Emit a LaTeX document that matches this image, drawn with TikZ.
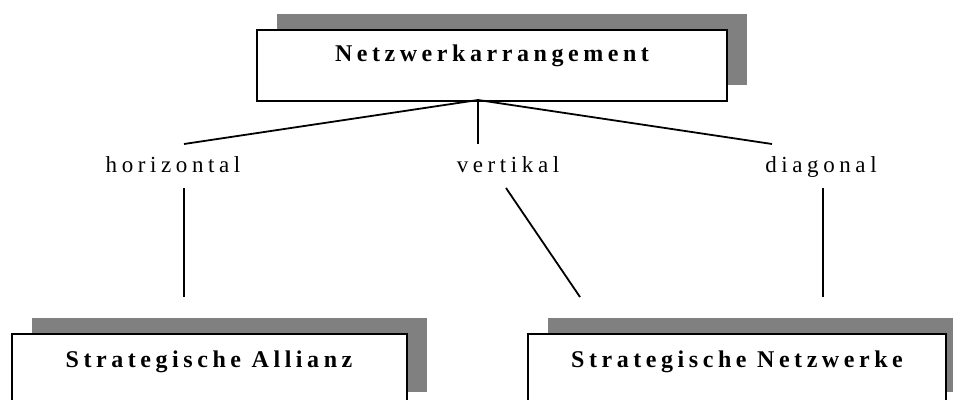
\documentclass[tikz,border=0pt]{standalone}
\usepackage{fontspec}
\usetikzlibrary{shadows}
\setmainfont{Liberation Serif}
\newfontfamily\titlefont[LetterSpace=19]{Liberation Serif}
\newfontfamily\labelfont[LetterSpace=20]{Liberation Serif}
\definecolor{shadowgray}{HTML}{808080}
\tikzset{
  boxnode/.style={draw=black, line width=2pt, fill=white, inner sep=0pt,
    anchor=north west,
    general shadow={fill=shadowgray, shadow xshift=20pt, shadow yshift=16pt}},
  boxtitle/.style={anchor=base, inner sep=0pt, font=\titlefont\bfseries\fontsize{24}{28}\selectfont},
  branchlabel/.style={anchor=base, inner sep=0pt, font=\labelfont\fontsize{23}{27}\selectfont},
  link/.style={line width=1.8pt}
}
\begin{document}
\begin{tikzpicture}[x=1pt,y=-1pt]
\useasboundingbox (0,0) rectangle (953,399);

% boxes with offset shadows
\node[boxnode, minimum width=470pt, minimum height=71pt] (net) at (256,29) {};
\node[boxnode, minimum width=395pt, minimum height=74pt] (sa) at (11,333) {};
\node[boxnode, minimum width=418pt, minimum height=74pt] (sn) at (527,333) {};

% box titles
\node[boxtitle] (nettext) at (492,61) {Netzwerkarrangement};
\node[boxtitle] (satext) at (209,367) {Strategische Allianz};
\node[boxtitle] (sntext) at (737,367) {Strategische Netzwerke};

% branch labels
\node[branchlabel] (hor) at (173,172) {horizontal};
\node[branchlabel] (ver) at (508,172) {vertikal};
\node[branchlabel] (dia) at (821,172) {diagonal};

% connector end points
\coordinate (apex) at (478,100);
\coordinate (horTop) at (184,144);
\coordinate (verTop) at (478,144);
\coordinate (diaTop) at (772,144);
\coordinate (horBot) at (184,188);
\coordinate (verBot) at (506,188);
\coordinate (diaBot) at (823,188);
\coordinate (saTop) at (184,297);
\coordinate (snTopA) at (580,297);
\coordinate (snTopB) at (823,297);

% upper fan
\draw[link] (apex) -- (horTop);
\draw[link] (apex) -- (verTop);
\draw[link] (apex) -- (diaTop);

% lower links
\draw[link] (horBot) -- (saTop);
\draw[link] (verBot) -- (snTopA);
\draw[link] (diaBot) -- (snTopB);
\end{tikzpicture}
\end{document}
